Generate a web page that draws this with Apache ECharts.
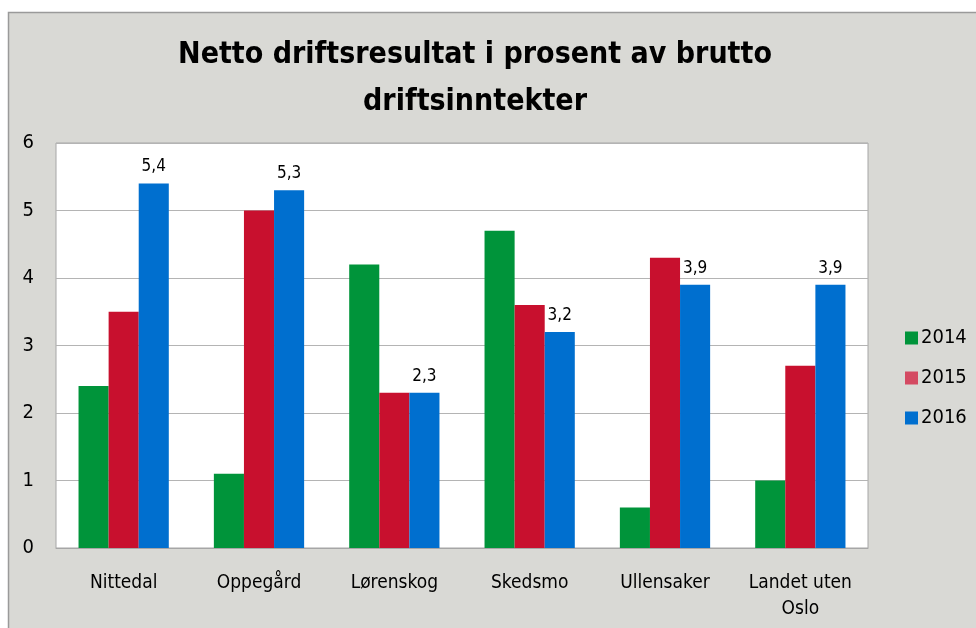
<!DOCTYPE html>
<html>
<head>
<meta charset="utf-8">
<script src="https://cdn.jsdelivr.net/npm/echarts@6/dist/echarts.min.js"></script>
<style>
  html, body { margin: 0; padding: 0; background: #ffffff; }
  #chart { width: 976px; height: 628px; }
</style>
</head>
<body>
<div id="chart"></div>
<script>
// data
const categories = ['Nittedal', 'Oppegård', 'Lørenskog', 'Skedsmo', 'Ullensaker', 'Landet uten\nOslo'];
const years = ['2014', '2015', '2016'];
const values2014 = [2.4, 1.1, 4.2, 4.7, 0.6, 1.0];
const values2015 = [3.5, 5.0, 2.3, 3.6, 4.3, 2.7];
const values2016 = [5.4, 5.3, 2.3, 3.2, 3.9, 3.9];
const yTicks = [0, 1, 2, 3, 4, 5, 6];

const colors = ['#00943a', '#c8102e', '#006fcf'];
const legendColors = ['#00943a', '#d44a62', '#006fcf'];
const font = "'Liberation Sans Narrow', 'DejaVu Sans Condensed', 'Open Sans', sans-serif";

var myChart = echarts.init(document.getElementById('chart'));

const seriesData = [values2014, values2015, values2016];

const option = {
  backgroundColor: '#ffffff',
  animation: false,
  textStyle: { fontFamily: font },
  graphic: [{
    type: 'rect',
    shape: { x: 8.5, y: 12.5, width: 1000, height: 700 },
    style: { fill: '#d9d9d5', stroke: '#9a9a9a', lineWidth: 1.5 },
    z: -10
  }],
  title: {
    text: 'Netto driftsresultat i prosent av brutto\ndriftsinntekter',
    left: 470,
    textAlign: 'center',
    top: 27,
    textStyle: {
      fontFamily: font,
      fontSize: 30,
      fontWeight: 'bold',
      color: '#000000',
      lineHeight: 47
    }
  },
  legend: {
    orient: 'vertical',
    left: 900,
    top: 323,
    itemWidth: 13,
    itemHeight: 13,
    itemGap: 20,
    icon: 'rect',
    textStyle: { fontFamily: font, fontSize: 20, color: '#000000', padding: [0, 0, 0, -2] },
    data: years.map((y, i) => ({ name: y, itemStyle: { color: legendColors[i] } }))
  },
  grid: {
    left: 56,
    top: 143,
    width: 812,
    height: 405,
    show: true,
    backgroundColor: '#ffffff',
    borderColor: '#a6a6a6',
    borderWidth: 1
  },
  xAxis: {
    type: 'category',
    data: categories,
    axisLine: { lineStyle: { color: '#a6a6a6' } },
    axisTick: { show: false },
    axisLabel: {
      fontFamily: font,
      fontSize: 19,
      color: '#000000',
      margin: 22,
      lineHeight: 26,
      interval: 0
    }
  },
  yAxis: {
    type: 'value',
    min: yTicks[0],
    max: yTicks[yTicks.length - 1],
    interval: 1,
    axisLine: { show: false },
    axisTick: { show: false },
    splitLine: { lineStyle: { color: '#b4b4b4', width: 1 } },
    axisLabel: {
      fontFamily: font,
      fontSize: 20,
      color: '#000000',
      margin: 22
    }
  },
  series: years.map((y, i) => ({
    name: y,
    type: 'bar',
    data: seriesData[i],
    barGap: '0%',
    barCategoryGap: '33.3%',
    itemStyle: { color: colors[i] },
    label: {
      show: i === 2,
      position: 'top',
      distance: 8,
      fontFamily: font,
      fontSize: 17,
      color: '#000000',
      formatter: function (p) { return String(p.value.toFixed(1)).replace('.', ','); }
    }
  }))
};

myChart.setOption(option);
</script>
</body>
</html>
